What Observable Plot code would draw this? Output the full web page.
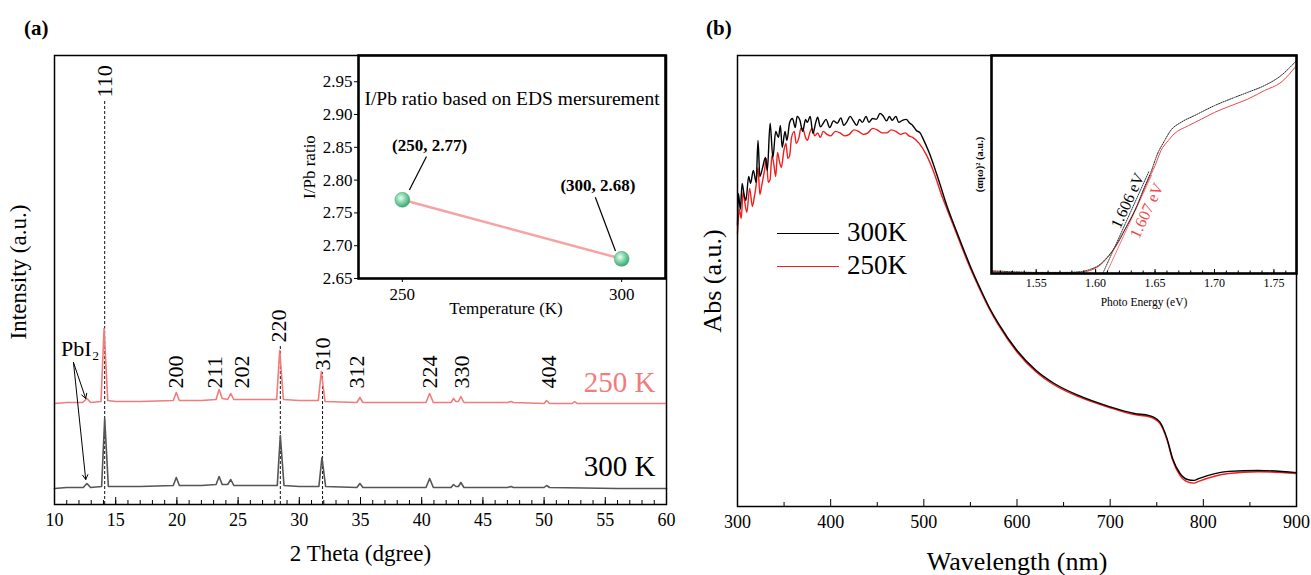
<!DOCTYPE html>
<html><head><meta charset="utf-8">
<script src="https://cdn.jsdelivr.net/npm/d3@7"></script>
<script src="https://cdn.jsdelivr.net/npm/@observablehq/plot@0.6"></script>
<style>
body{margin:0;background:#fff;}
#root{position:relative;width:1311px;height:575px;overflow:hidden;font-family:"Liberation Serif","Times New Roman",Times,serif;color:#000;}
#root svg text{font-family:"Liberation Serif","Times New Roman",Times,serif;}
.lbl{position:absolute;font-weight:bold;font-size:21px;}
.leg{position:absolute;font-size:27px;line-height:1;}
.sw{position:absolute;height:0;}
</style></head><body><div id="root"></div>
<script>
// ---------- Panel (a): XRD patterns [2θ, intensity a.u.] ----------
const xrd250 = [[10,101],[11,102],[12.3,102],[12.65,106],[12.95,102],[13.8,103],[14.05,176],[14.35,104],[15,103],[17,103],[19.7,104],[19.95,112],[20.2,104],[22,104],[23.2,105],[23.45,115],[23.7,106],[24.15,105],[24.4,111],[24.65,105],[26,105],[28.15,105],[28.4,154],[28.7,105],[30,104],[31.55,104],[31.8,133],[32.1,103],[34.7,102],[34.95,107],[35.2,102],[38,102],[40.35,102],[40.65,111],[40.95,102],[42.4,102],[42.6,106],[42.8,103],[43.0,103],[43.2,108],[43.45,102],[47,102],[47.3,103],[47.5,102],[50.0,101],[50.2,104],[50.45,101],[52.3,101],[52.5,103],[52.7,101],[56,101],[60,101]];
const xrd300 = [[10,16],[11,17],[12.35,17],[12.65,21],[12.95,17],[13.85,18],[14.1,86],[14.4,18],[15,18],[17,18],[19.7,19],[19.95,27],[20.2,19],[22,19],[23.2,20],[23.45,28],[23.7,20],[24.15,20],[24.4,25],[24.65,19],[26,19],[28.2,19],[28.45,69],[28.75,19],[30,18],[31.6,18],[31.85,47],[32.15,18],[34.7,17],[34.95,21],[35.2,17],[38,17],[40.35,17],[40.65,26],[40.95,17],[42.4,17],[42.6,20],[42.8,18],[43.0,18],[43.2,22],[43.45,17],[47,17],[47.3,18],[47.5,17],[50.0,17],[50.2,19],[50.45,17],[56,16],[60,16]];
const hklLabels = ["110","200","211","202","220","310","312","224","330","404"];
const hklX = [14.15,19.9,23.1,25.35,28.35,31.9,34.7,40.65,43.25,50.4];
const hklY = [407,116,116,116,162,134,116,116,116,116];
const dashX = [14.1,28.45,31.9];
const dashTop = [404,159,132];
const seriesNamesA = ["250 K","300 K"];
const seriesLabelY = [122,38];
const xrdMajor = [10,15,20,25,30,35,40,45,50,55,60];
const xrdMinor = d3.range(10,61,1);
const pbArrows = [{x1:11.55,y1:142,x2:12.55,y2:106},{x1:11.55,y1:142,x2:12.55,y2:25}];

// ---------- Inset (a): EDS ratio ----------
const temps = [250,300];
const ratios = [2.77,2.68];
const ratioTicks = [2.65,2.70,2.75,2.80,2.85,2.90,2.95];
const tempTicks = [250,300];
const ratioNotes = ["(250, 2.77)","(300, 2.68)"];
const noteX = [256.2,294.6];
const noteY = [2.852,2.792];
const leaders = [{x1:251.6,y1:2.785,x2:255.5,y2:2.836},{x1:294.0,y1:2.774,x2:298.6,y2:2.692}];

// ---------- Panel (b): absorption [nm, Abs a.u.] ----------
const abs300 = [[300,0.937],[301,1.043],[303,0.99],[305,1.077],[307,1.04],[309,1.02],[312,1.10],[314,1.077],[317,1.12],[320,1.08],[322,1.22],[324,1.10],[327,1.13],[330,1.163],[332,1.12],[335,1.277],[338,1.163],[341,1.25],[344,1.23],[346,1.27],[348,1.197],[351,1.25],[353,1.22],[356,1.28],[359,1.293],[362,1.263],[364,1.30],[367,1.287],[370,1.25],[373,1.29],[375,1.28],[378,1.30],[381,1.243],[384,1.28],[386,1.297],[389,1.265],[392,1.277],[395,1.29],[399,1.263],[403,1.285],[407,1.277],[411,1.295],[414,1.27],[417,1.28],[421,1.30],[424,1.287],[428,1.27],[431,1.29],[434,1.28],[438,1.30],[441,1.28],[445,1.293],[449,1.29],[453,1.31],[456,1.303],[460,1.285],[463,1.30],[466,1.287],[470,1.30],[473,1.28],[477,1.287],[481,1.29],[485,1.277],[488,1.27],[492,1.253],[496,1.245],[499,1.227],[506,1.177],[517,1.077],[525,1.0],[531,0.95],[541,0.87],[550,0.80],[560,0.73],[570,0.665],[580,0.61],[600,0.52],[620,0.455],[640,0.41],[666,0.37],[699,0.333],[726,0.31],[742,0.303],[753,0.283],[761,0.227],[767,0.16],[775,0.11],[783,0.09],[790,0.087],[795,0.093],[827,0.117],[859,0.12],[900,0.113]];
const abs250 = [[300,0.91],[302,0.99],[304,0.96],[306,1.05],[308,1.01],[310,0.98],[313,1.06],[316,1.00],[318,1.03],[320,1.07],[322,1.13],[324,1.04],[326,1.07],[329,1.12],[331,1.16],[333,1.08],[335,1.09],[337,1.17],[339,1.14],[341,1.10],[343,1.18],[345,1.15],[347,1.13],[350,1.19],[352,1.21],[354,1.16],[356,1.17],[358,1.23],[361,1.25],[363,1.21],[366,1.23],[368,1.26],[370,1.26],[373,1.23],[375,1.22],[378,1.25],[380,1.26],[383,1.235],[386,1.245],[389,1.23],[392,1.25],[396,1.24],[400,1.235],[405,1.25],[410,1.245],[415,1.235],[420,1.24],[425,1.255],[430,1.25],[435,1.24],[440,1.245],[445,1.26],[450,1.255],[455,1.245],[460,1.245],[465,1.255],[470,1.25],[475,1.24],[480,1.245],[484,1.235],[488,1.23],[495,1.21],[503,1.17],[510,1.12],[520,1.03],[525,0.99],[531,0.942],[541,0.862],[550,0.793],[560,0.724],[570,0.66],[580,0.605],[600,0.515],[620,0.45],[640,0.405],[666,0.366],[699,0.33],[726,0.306],[742,0.299],[753,0.278],[761,0.222],[767,0.155],[775,0.103],[783,0.082],[790,0.078],[795,0.084],[827,0.11],[859,0.116],[900,0.11]];
const wlMajor = [300,400,500,600,700,800,900];
const wlMinor = [350,450,550,650,750,850];
const legendNames = ["300K","250K"];

// ---------- Inset (b): Tauc plot [eV, (αhν)^2 a.u.] ----------
const tauc300 = [[1.513,0.012],[1.532,0.008],[1.55,0.005],[1.574,0.005],[1.588,0.009],[1.596,0.020],[1.602,0.035],[1.607,0.058],[1.616,0.119],[1.624,0.196],[1.633,0.288],[1.641,0.395],[1.647,0.472],[1.652,0.548],[1.658,0.609],[1.663,0.655],[1.672,0.694],[1.683,0.724],[1.70,0.770],[1.717,0.808],[1.728,0.831],[1.742,0.862],[1.756,0.908],[1.769,0.977]];
const tauc250 = [[1.513,0.009],[1.55,0.002],[1.574,0.002],[1.588,0.005],[1.596,0.015],[1.603,0.035],[1.610,0.073],[1.619,0.142],[1.627,0.226],[1.636,0.325],[1.644,0.426],[1.650,0.495],[1.655,0.564],[1.661,0.609],[1.666,0.640],[1.678,0.678],[1.689,0.708],[1.70,0.739],[1.714,0.770],[1.728,0.800],[1.742,0.839],[1.756,0.877],[1.769,0.954]];
const tangent300 = [[1.606,0],[1.645,0.47]];
const tangent250 = [[1.609,0],[1.647,0.45]];
const gapLabels = ["1.606 eV","1.607 eV"];
const gapX = [1.627,1.643];
const gapY = [0.334,0.288];
const eMajor = [1.55,1.60,1.65,1.70,1.75];
const eMinor = d3.range(1.52,1.77,0.01).map(v=>+v.toFixed(2));

const serif = '"Liberation Serif","Times New Roman",Times,serif';
const F = {fontFamily: serif};
const root = document.getElementById("root");
function place(el, left, top){
  el.style.position="absolute"; el.style.left=left+"px"; el.style.top=top+"px";
  if (el.tagName && el.tagName.toLowerCase()==="svg") { el.setAttribute("font-family", serif); el.style.fontFamily = serif; }
  root.appendChild(el); return el;
}
const P = d => d[0], V = d => d[1];
const baseStyle = {background:"transparent", color:"#000", overflow:"visible"};

// ---------- Panel (a) main ----------
const hkl = hklLabels.map((t,i)=>({t, x:hklX[i], y:hklY[i]}));
const dashes = dashX.map((x,i)=>({x, top:dashTop[i]}));
const plotA = Plot.plot({
  width:680, height:575, marginLeft:54, marginRight:14, marginTop:55, marginBottom:71,
  style:baseStyle,
  x:{domain:[10,60], axis:null}, y:{domain:[0,449], axis:null},
  marks:[
    Plot.ruleX(dashes, {x:"x", y1:0, y2:"top", stroke:"#111", strokeWidth:1, strokeDasharray:"3,2"}),
    Plot.line(xrd300, {x:P, y:V, stroke:"#555", strokeWidth:1.6}),
    Plot.line(xrd250, {x:P, y:V, stroke:"#f27c7c", strokeWidth:1.6}),
    Plot.text(hkl, {...F, x:"x", y:"y", text:"t", rotate:-90, textAnchor:"start", lineAnchor:"middle", fontSize:22}),
    Plot.text([seriesNamesA[0]], {...F, x:59.1, y:seriesLabelY[0], text:d=>d, textAnchor:"end", fontSize:29, fill:"#f27c7c"}),
    Plot.text([seriesNamesA[1]], {...F, x:59.1, y:seriesLabelY[1], text:d=>d, textAnchor:"end", fontSize:29, fill:"#000"}),
    Plot.text(["PbI₂"], {...F, x:12.1, y:156, text:d=>d, fontSize:22}),
    Plot.arrow(pbArrows, {x1:"x1", y1:"y1", x2:"x2", y2:"y2", stroke:"#000", strokeWidth:1, headLength:8}),
    Plot.axisX(xrdMinor, {tickSize:-4, tickFormat:()=>"", label:null}),
    Plot.axisX(xrdMajor, {tickSize:-7, tickFormat:()=>"", label:null}),
    Plot.axisX(xrdMajor, {...F, tickSize:0, tickPadding:9, fontSize:18, label:null}),
    Plot.frame({stroke:"#000", strokeWidth:1.5}),
    Plot.text(["2 Theta (dgree)"], {...F, frameAnchor:"bottom", dy:49, text:d=>d, fontSize:23, textAnchor:"middle", lineAnchor:"middle"}),
    Plot.text(["Intensity (a.u.)"], {...F, frameAnchor:"left", dx:-36, dy:-8, rotate:-90, text:d=>d, fontSize:23, textAnchor:"middle", lineAnchor:"middle"})
  ]
});
place(plotA, 0, 0);

// ---------- Inset (a) ----------
const pts = temps.map((t,i)=>({t, r:ratios[i]}));
const notes = ratioNotes.map((s,i)=>({s, x:noteX[i], y:noteY[i]}));
const insetA = Plot.plot({
  width:390, height:290, marginLeft:68, marginRight:15, marginTop:15, marginBottom:52,
  style:baseStyle,
  x:{domain:[240,310], axis:null}, y:{domain:[2.65,2.99], axis:null},
  marks:[
    Plot.frame({fill:"#fff", stroke:"none"}),
    Plot.line(pts, {x:"t", y:"r", stroke:"#f5a3a3", strokeWidth:2.5}),
    Plot.link(leaders, {x1:"x1", y1:"y1", x2:"x2", y2:"y2", stroke:"#000", strokeWidth:1.2}),
    Plot.dot(pts, {x:"t", y:"r", r:7.5, fill:"url(#sphereGrad)", stroke:"#4aa97c", strokeWidth:0.5}),
    Plot.text(notes, {...F, x:"x", y:"y", text:"s", fontSize:17, fontWeight:"bold"}),
    Plot.text(["I/Pb ratio based on EDS mersurement"], {...F, frameAnchor:"top", dy:43, text:d=>d, fontSize:19.5, textAnchor:"middle", lineAnchor:"middle"}),
    Plot.axisY(ratioTicks, {...F, tickSize:4, tickPadding:2, fontSize:17, tickFormat:d=>d.toFixed(2), label:null}),
    Plot.axisX(tempTicks, {...F, tickSize:4, tickPadding:5, fontSize:17, label:null}),
    Plot.frame({stroke:"#000", strokeWidth:2.6}),
    Plot.text(["I/Pb ratio"], {...F, frameAnchor:"left", dx:-49, rotate:-90, text:d=>d, fontSize:17, textAnchor:"middle", lineAnchor:"middle"}),
    Plot.text(["Temperature (K)"], {...F, frameAnchor:"bottom", dx:-6, dy:30, text:d=>d, fontSize:17, textAnchor:"middle", lineAnchor:"middle"})
  ]
});
{
  const defs = d3.select(insetA).insert("defs", ":first-child");
  const g = defs.append("radialGradient").attr("id","sphereGrad").attr("cx","40%").attr("cy","38%").attr("r","62%");
  g.append("stop").attr("offset","0%").attr("stop-color","#eafff3");
  g.append("stop").attr("offset","45%").attr("stop-color","#8fd9b2");
  g.append("stop").attr("offset","100%").attr("stop-color","#3aa874");
}
place(insetA, 290, 40);

// ---------- Panel (b) main ----------
const plotB = Plot.plot({
  width:631, height:575, marginLeft:57, marginRight:15, marginTop:55, marginBottom:69,
  style:baseStyle,
  x:{domain:[300,900], axis:null}, y:{domain:[0,1.503], axis:null},
  marks:[
    Plot.line(abs250, {x:P, y:V, stroke:"#f21d1d", strokeWidth:1.4, curve:"monotone-x"}),
    Plot.line(abs300, {x:P, y:V, stroke:"#000", strokeWidth:1.4, curve:"monotone-x"}),
    Plot.axisX(wlMinor, {tickSize:-4, tickFormat:()=>"", label:null}),
    Plot.axisX(wlMajor, {tickSize:-7, tickFormat:()=>"", label:null}),
    Plot.axisX(wlMajor, {...F, tickSize:0, tickPadding:9, fontSize:18, label:null}),
    Plot.frame({stroke:"#000", strokeWidth:1.5}),
    Plot.text(["Wavelength (nm)"], {...F, frameAnchor:"bottom", dy:55, text:d=>d, fontSize:26, textAnchor:"middle", lineAnchor:"middle"}),
    Plot.text(["Abs (a.u.)"], {...F, frameAnchor:"left", dx:-25, rotate:-90, text:d=>d, fontSize:26, textAnchor:"middle", lineAnchor:"middle"})
  ]
});
place(plotB, 680, 0);

// ---------- Inset (b) ----------
const gaps = gapLabels.map((s,i)=>({s, x:gapX[i], y:gapY[i]}));
const insetB = Plot.plot({
  width:351, height:270, marginLeft:31, marginRight:15, marginTop:10, marginBottom:42,
  style:baseStyle,
  x:{domain:[1.5124,1.769], axis:null}, y:{domain:[0,1], axis:null},
  marks:[
    Plot.frame({fill:"#fff", stroke:"none"}),
    Plot.line(tangent250, {x:P, y:V, stroke:"#f36b6b", strokeWidth:0.9}),
    Plot.line(tangent300, {x:P, y:V, stroke:"#222", strokeWidth:0.9, strokeDasharray:"1.2,1.2"}),
    Plot.line(tauc250, {x:P, y:V, stroke:"#f04848", strokeWidth:1, curve:"monotone-x"}),
    Plot.line(tauc300, {x:P, y:V, stroke:"#222", strokeWidth:1, strokeDasharray:"1.2,1.2", curve:"monotone-x"}),
    Plot.text([gaps[0]], {...F, x:"x", y:"y", text:"s", rotate:-65, fontSize:16, fill:"#000"}),
    Plot.text([gaps[1]], {...F, x:"x", y:"y", text:"s", rotate:-65, fontSize:16, fill:"#f04848"}),
    Plot.axisX(eMinor, {tickSize:-2.5, tickFormat:()=>"", label:null}),
    Plot.axisX(eMajor, {tickSize:-4, tickFormat:()=>"", label:null}),
    Plot.axisX(eMajor, {...F, tickSize:0, tickPadding:5, fontSize:12, tickFormat:d=>d.toFixed(2), label:null}),
    Plot.frame({stroke:"#000", strokeWidth:2.6}),
    Plot.text(["Photo Energy (eV)"], {...F, frameAnchor:"bottom", dy:29, text:d=>d, fontSize:11.5, textAnchor:"middle", lineAnchor:"middle"}),
    Plot.text(["(αηω)² (a.u.)"], {...F, frameAnchor:"left", dx:-12, rotate:-90, text:d=>d, fontSize:10.5, fontWeight:"bold", textAnchor:"middle", lineAnchor:"middle"})
  ]
});
place(insetB, 960, 45);

// ---------- Panel labels and legend ----------
const la = document.createElement("div"); la.className="lbl"; la.textContent="(a)"; place(la, 24, 16);
const lb = document.createElement("div"); lb.className="lbl"; lb.textContent="(b)"; place(lb, 706, 16);
const legendColors = ["#000","#f21d1d"];
const legendRows = [233,266];
legendNames.forEach((n,i)=>{
  const s = document.createElement("div"); s.className="sw";
  s.style.width="62px"; s.style.borderTop="1.5px solid "+legendColors[i];
  place(s, 777, legendRows[i]);
  const t = document.createElement("div"); t.className="leg"; t.textContent=n;
  place(t, 847, legendRows[i]-14);
});
</script></body></html>
